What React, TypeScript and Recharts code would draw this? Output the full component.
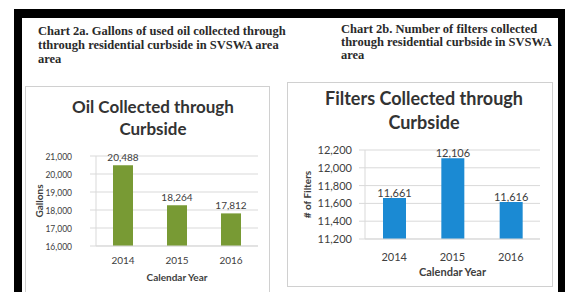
import {
  BarChart, Bar, XAxis, YAxis, CartesianGrid, LabelList, Label
} from 'recharts';

const YEARS = ['2014', '2015', '2016'];
const OIL_GALLONS = [20488, 18264, 17812];
const FILTER_COUNTS = [11661, 12106, 11616];
const OIL_TICKS = [16000, 17000, 18000, 19000, 20000, 21000];
const FILTER_TICKS = [11200, 11400, 11600, 11800, 12000, 12200];

const OIL_HEADING = [
  'Chart 2a. Gallons of used oil collected through',
  'tthrough residential curbside in SVSWA area',
  'area',
];
const FILTER_HEADING = [
  'Chart 2b. Number of filters collected',
  'through residential curbside in SVSWA',
  'area',
];

const fmt = (v: any) => Number(v).toLocaleString('en-US');
const FONT = 'Lato, "Open Sans", sans-serif';
const TEXT = '#404040';
const GRID = '#d9d9d9';

const oilData = YEARS.map((year, i) => ({ year, value: OIL_GALLONS[i] }));
const filterData = YEARS.map((year, i) => ({ year, value: FILTER_COUNTS[i] }));

// the scan squeezes the left chart's axis numbers a little
function NarrowTick({ x, y, payload }: any) {
  return (
    <text x={0} y={0} transform={`translate(${x},${y}) scale(0.85,1)`} textAnchor="end" dy="0.35em"
      fontSize={10} fill={TEXT} fontFamily={FONT}>
      {fmt(payload.value)}
    </text>
  );
}

function Heading({ lines, left, top, lineHeight }: { lines: string[]; left: number; top: number; lineHeight: number }) {
  return (
    <div style={{
      position: 'absolute', left, top, fontFamily: '"Liberation Serif", serif',
      fontWeight: 'bold', fontSize: 12.5, lineHeight: `${lineHeight}px`, color: '#2a2a2a', whiteSpace: 'nowrap'
    }}>
      {lines.map((l, i) => <div key={i}>{l}</div>)}
    </div>
  );
}

function Title({ lines, center, top, size, lh }: { lines: string[]; center: number; top: number; size: number; lh: number }) {
  return (
    <div style={{
      position: 'absolute', left: center - 150, width: 300, top, textAlign: 'center',
      fontFamily: FONT, fontWeight: 'bold', fontSize: size, lineHeight: `${lh}px`, color: '#333'
    }}>
      {lines.map((l, i) => <div key={i}>{l}</div>)}
    </div>
  );
}

export default function App() {
  return (
    <div style={{ position: 'absolute', left: 0, top: 0, width: 565, height: 292, overflow: 'hidden', background: '#fff' }}>
      {/* scan borders */}
      <div style={{ position: 'absolute', left: 14, top: 9, width: 551, height: 9, background: '#000' }} />
      <div style={{ position: 'absolute', left: 14, top: 9, width: 8, height: 283, background: '#000' }} />
      <div style={{ position: 'absolute', left: 558, top: 9, width: 7, height: 283, background: '#000' }} />

      <Heading lines={OIL_HEADING} left={38} top={24} lineHeight={14} />
      <Heading lines={FILTER_HEADING} left={341} top={23} lineHeight={13} />

      {/* left panel */}
      <div style={{ position: 'absolute', left: 25, top: 86, width: 245, height: 220, border: '1px solid #d0d0d0', boxSizing: 'border-box' }} />
      <Title lines={['Oil Collected through', 'Curbside']} center={153} top={96} size={17} lh={22} />
      <div style={{ position: 'absolute', left: 25, top: 86 }}>
        <BarChart width={245} height={214} data={oilData} margin={{ top: 70, right: 12, bottom: 14, left: 0 }}>
          <CartesianGrid vertical={false} stroke={GRID} />
          <XAxis dataKey="year" height={40} tickLine={false} axisLine={{ stroke: GRID }} tickSize={4} tickMargin={7}
            tick={{ fontSize: 10, fill: TEXT, fontFamily: FONT }}>
            <Label value="Calendar Year" position="insideBottom" offset={5}
              style={{ fontSize: 10, fontWeight: 'bold', fill: TEXT, fontFamily: FONT }} />
          </XAxis>
          <YAxis width={71} domain={[16000, 21000]} ticks={OIL_TICKS} interval={0}
            axisLine={{ stroke: GRID }} tickLine={{ stroke: GRID }} tickSize={6} tickMargin={18}
            tick={<NarrowTick />}>
            <Label value="Gallons" angle={-90} position="center" dx={-21}
              style={{ fontSize: 10, fontWeight: 'bold', fill: TEXT, fontFamily: FONT, textAnchor: 'middle' }} />
          </YAxis>
          <Bar dataKey="value" fill="#789a34" barSize={20} isAnimationActive={false}>
            <LabelList dataKey="value" position="top" offset={4} formatter={fmt}
              style={{ fontSize: 10, fill: TEXT, fontFamily: FONT }} />
          </Bar>
        </BarChart>
      </div>

      {/* right panel */}
      <div style={{ position: 'absolute', left: 287, top: 82, width: 266, height: 205, border: '1px solid #d0d0d0', boxSizing: 'border-box' }} />
      <Title lines={['Filters Collected through', 'Curbside']} center={424} top={86} size={18} lh={24} />
      <div style={{ position: 'absolute', left: 287, top: 82 }}>
        <BarChart width={266} height={205} data={filterData} margin={{ top: 68, right: 13, bottom: 0, left: 0 }}>
          <CartesianGrid vertical={false} stroke={GRID} />
          <XAxis dataKey="year" height={48} tickLine={false} axisLine={{ stroke: GRID }} tickSize={6} tickMargin={8}
            tick={{ fontSize: 11, fill: TEXT, fontFamily: FONT }}>
            <Label value="Calendar Year" position="insideBottom" offset={11}
              style={{ fontSize: 11, fontWeight: 'bold', fill: TEXT, fontFamily: FONT }} />
          </XAxis>
          <YAxis width={78} domain={[11200, 12200]} ticks={FILTER_TICKS} tickFormatter={fmt} interval={0}
            axisLine={{ stroke: GRID }} tickLine={{ stroke: GRID }} tickSize={6} tickMargin={7}
            tick={{ fontSize: 11, fill: TEXT, fontFamily: FONT }}>
            <Label value="# of Filters" angle={-90} position="center" dx={-19}
              style={{ fontSize: 10, fontWeight: 'bold', fill: TEXT, fontFamily: FONT, textAnchor: 'middle' }} />
          </YAxis>
          <Bar dataKey="value" fill="#1b8ad3" barSize={23} isAnimationActive={false}>
            <LabelList dataKey="value" position="top" offset={1} formatter={fmt}
              style={{ fontSize: 11, fill: TEXT, fontFamily: FONT }} />
          </Bar>
        </BarChart>
      </div>
    </div>
  );
}
